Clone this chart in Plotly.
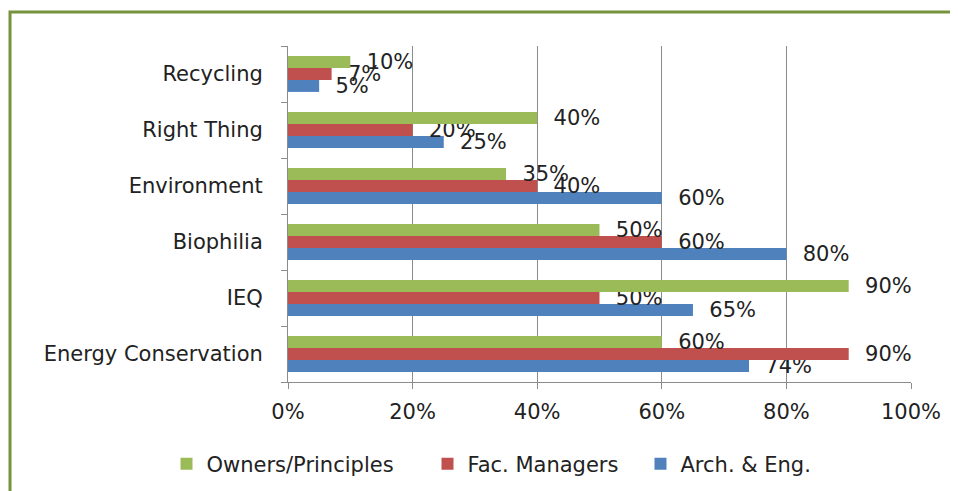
import plotly.graph_objects as go

categories = ['Energy Conservation', 'IEQ', 'Biophilia', 'Environment', 'Right Thing', 'Recycling']
arch_eng = [74, 65, 80, 60, 25, 5]
fac_managers = [90, 50, 60, 40, 20, 7]
owners = [60, 90, 50, 35, 40, 10]
tick_vals = [0, 20, 40, 60, 80, 100]
tick_text = ['0%', '20%', '40%', '60%', '80%', '100%']

FONT = 'DejaVu Sans'
# (name, values, colour, legend id, legend x)
series = [
    ('Arch. & Eng.', arch_eng, '#4F81BD', 'legend3', 0.5658),
    ('Fac. Managers', fac_managers, '#C0504D', 'legend2', 0.2239),
    ('Owners/Principles', owners, '#9BBB59', 'legend', -0.195),
]

fig = go.Figure()
legends = {}
for name, vals, color, leg, lx in series:
    fig.add_trace(go.Bar(
        name=name, y=categories, x=vals, orientation='h',
        marker=dict(color=color, line=dict(width=0)),
        text=[f'  {v}%' for v in vals], textposition='outside',
        constraintext='none', cliponaxis=False,
        textfont=dict(family=FONT, size=21, color='#222222'),
        legend=leg, showlegend=True,
    ))
    legends[leg] = dict(orientation='h', x=lx, xanchor='left',
                        y=-0.244, yanchor='middle',
                        font=dict(family=FONT, size=21))

# page body adds an 8px offset, so the figure is 8px smaller than the window
fig.update_layout(
    width=950, height=483,
    margin=dict(l=280, r=47, t=38, b=109, autoexpand=False),
    showlegend=True,
    paper_bgcolor='white', plot_bgcolor='white',
    barmode='group', bargap=0.36, bargroupgap=0,
    font=dict(family=FONT, size=21, color='#222222'),
    shapes=[dict(type='rect', xref='paper', yref='paper',
                 x0=-0.4462, x1=1.09, y0=-0.35, y1=1.1012,
                 line=dict(color='#77933C', width=3), layer='below')],
    **legends,
)
fig.update_xaxes(range=[0, 100], tickvals=tick_vals, ticktext=tick_text,
                 showgrid=True, gridcolor='#8C8C8C', gridwidth=1,
                 showline=True, linecolor='#8C8C8C', ticks='outside',
                 ticklen=6, tickcolor='#8C8C8C', ticklabelstandoff=5,
                 zeroline=False)
fig.update_yaxes(categoryorder='array', categoryarray=categories,
                 showline=True, linecolor='#8C8C8C', ticks='outside',
                 tickson='boundaries', ticklen=6, tickcolor='#8C8C8C',
                 ticklabelstandoff=20, showgrid=False)

fig.write_html('out.html')
